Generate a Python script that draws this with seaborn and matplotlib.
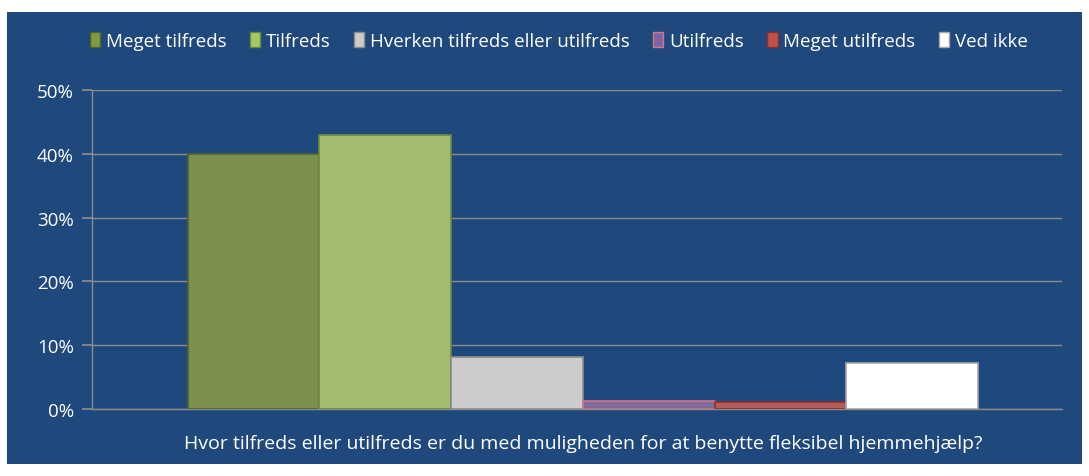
import seaborn as sns
import matplotlib.pyplot as plt
import pandas as pd
from matplotlib.patches import Rectangle
from matplotlib.ticker import PercentFormatter

question = "Hvor tilfreds eller utilfreds er du med muligheden for at benytte fleksibel hjemmehjælp?"
answers = ["Meget tilfreds", "Tilfreds", "Hverken tilfreds eller utilfreds",
           "Utilfreds", "Meget utilfreds", "Ved ikke"]
shares = [40.0, 42.9, 8.2, 1.3, 1.1, 7.2]
colors = ["#7F9B42", "#A5C863", "#CCCCCC", "#8064A2", "#C0504D", "#FFFFFF"]
edges = ["#4F6228", "#6E8A38", "#8C8C8C", "#D9708A", "#8B2E2C", "#A6A6A6"]

navy = "#1F497D"
grid_col = "#8C8C8C"

sns.set_theme(style="white")
plt.rcParams['font.family'] = ['Open Sans', 'DejaVu Sans']

df = pd.DataFrame({"q": [question] * len(answers), "svar": answers, "andel": shares})

fig = plt.figure(figsize=(10.89, 4.77), dpi=100, facecolor="white")
fig.patches.append(Rectangle((7 / 1089, 12 / 477), 1075 / 1089, 452 / 477,
                             transform=fig.transFigure, facecolor=navy,
                             edgecolor="none", zorder=-1))
ax = fig.add_axes([92 / 1089, 1 - 410 / 477, 970 / 1089, 319 / 477])
ax.set_facecolor(navy)

sns.barplot(data=df, x="q", y="andel", hue="svar", hue_order=answers,
            palette=colors, width=0.815, gap=0, ax=ax, legend=False, zorder=3)
for i, cont in enumerate(ax.containers):
    for bar in cont:
        bar.set_edgecolor(edges[i])
        bar.set_linewidth(1.2)

# group sits a bit right of centre in the original
ax.set_xlim(-0.506, 0.494)
ax.set_ylim(0, 50)
ax.set_yticks([0, 10, 20, 30, 40, 50])
ax.yaxis.set_major_formatter(PercentFormatter(decimals=0))
ax.grid(axis="y", color=grid_col, linewidth=1, zorder=0)
ax.set_xlabel("")
ax.set_ylabel("")
for s in ["top", "right"]:
    ax.spines[s].set_visible(False)
for s in ["left", "bottom"]:
    ax.spines[s].set_color(grid_col)
    ax.spines[s].set_linewidth(1)
ax.tick_params(axis="y", left=True, length=7, color=grid_col, colors="white",
               labelsize=13.5, pad=6)
ax.tick_params(axis="x", bottom=False, colors="white", labelsize=14, pad=12)

handles = [Rectangle((0, 0), 1, 1, facecolor=c, edgecolor=e) for c, e in zip(colors, edges)]
leg = fig.legend(handles, answers, loc="center", bbox_to_anchor=(0.513, 1 - 42 / 477),
                 ncol=6, frameon=False, fontsize=13.5, handlelength=0.55,
                 handleheight=0.85, handletextpad=0.3, columnspacing=1.25)
for t in leg.get_texts():
    t.set_color("white")

fig.savefig("out.png", dpi=100, facecolor="white")
